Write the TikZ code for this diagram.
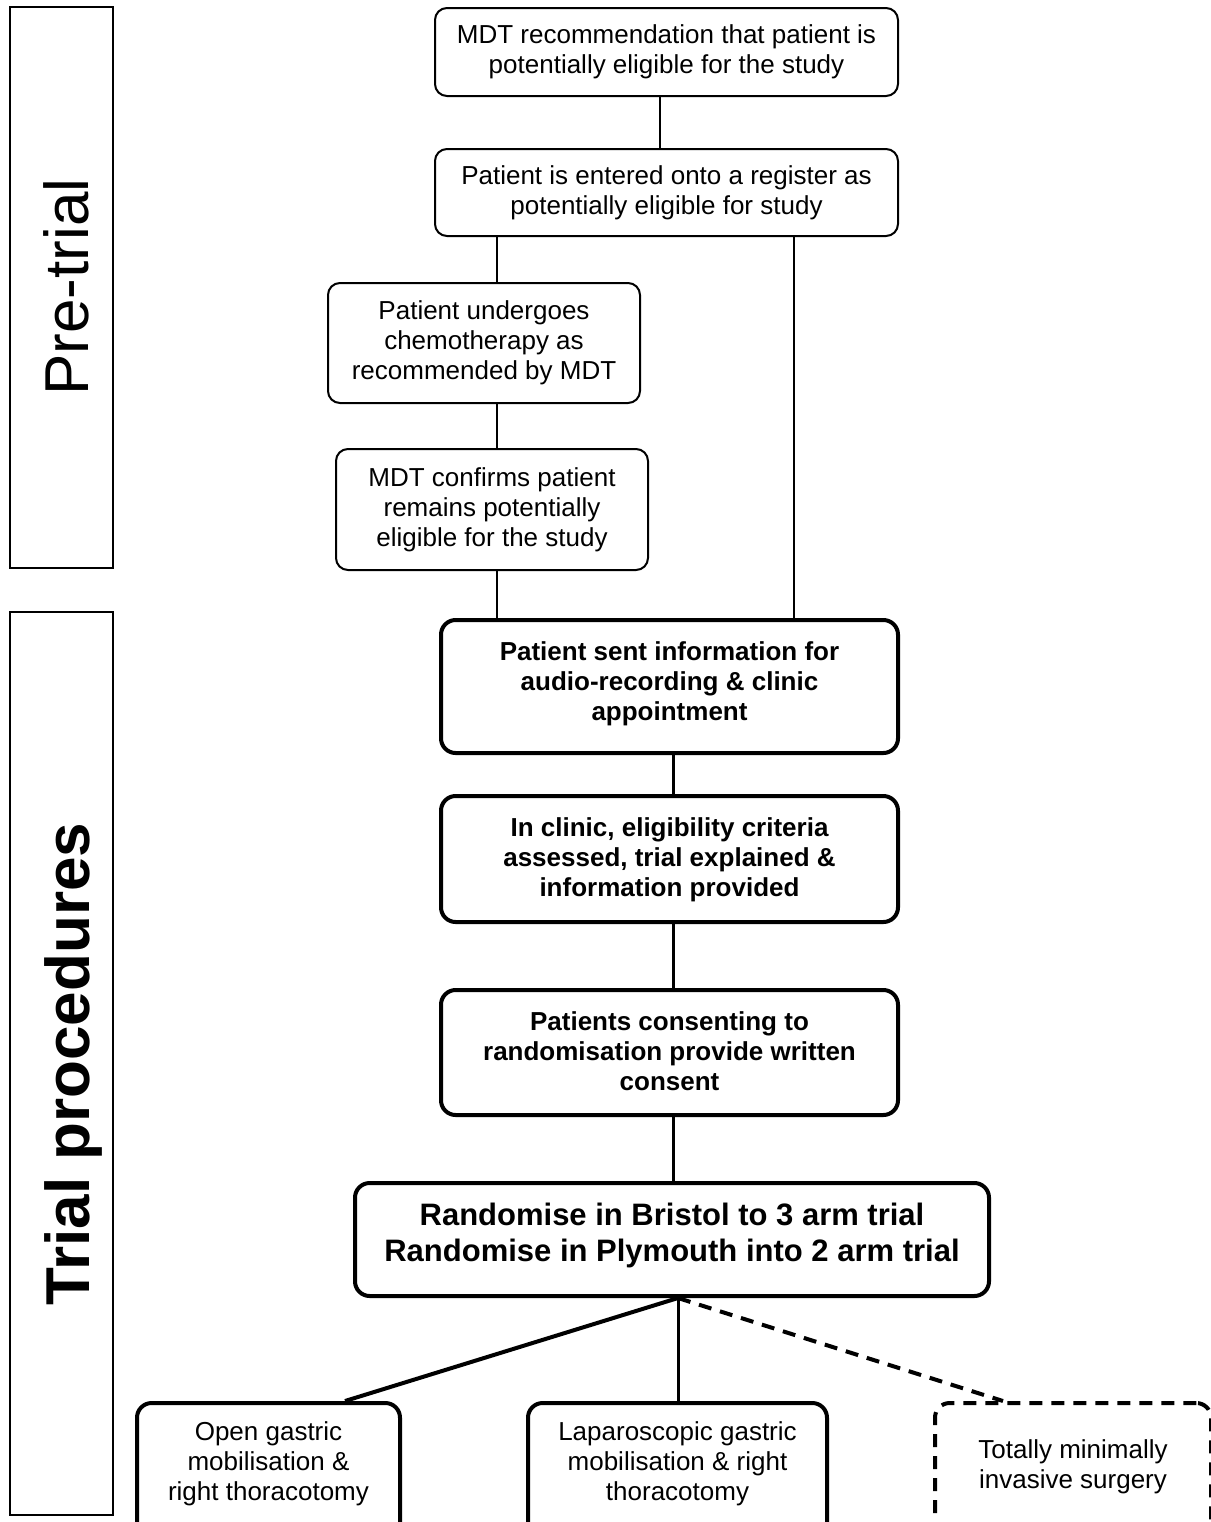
\documentclass[tikz,border=0pt]{standalone}
\usepackage{fontspec}
\setmainfont{Liberation Sans}
\usetikzlibrary{calc}
\begin{document}
\begin{tikzpicture}[x=0.75pt,y=-0.75pt,
  txt/.style={font=\fontsize{19.5pt}{22.5pt}\selectfont, align=center, inner sep=0pt},
  boldtxt/.style={txt, font=\fontsize{19.5pt}{22.5pt}\selectfont\bfseries},
  thinbox/.style={txt, draw, line width=1.5pt, rounded corners=9pt},
  thickbox/.style={draw, line width=3pt, rounded corners=11pt, inner sep=0pt},
  dashbox/.style={draw, line width=3pt, rounded corners=11pt, inner sep=0pt, dash pattern=on 9.75pt off 6.75pt},
  panel/.style={draw, line width=1.5pt},
  thinline/.style={line width=1.1pt},
  thickline/.style={line width=2.25pt},
  bigtxt/.style={font=\fontsize{46.5pt}{50pt}\selectfont, rotate=90, anchor=base, inner sep=0pt}
]
\useasboundingbox (0,0) rectangle (1211,1522);
\clip (0,0) rectangle (1211,1522);
\fill[white] (0,0) rectangle (1211,1522);

% side panels
\draw[panel] (10,7) rectangle (113,568);
\draw[panel] (10,612) rectangle (113,1515);
\node[bigtxt] (pre) at (88,287) {Pre-trial};
\node[bigtxt, font=\fontsize{46.5pt}{50pt}\selectfont\bfseries] (trial) at (89,1064) {Trial procedures};

% boxes
\node[thinbox, minimum width=347.25pt, minimum height=66pt] (b1) at (666.5,52) {MDT recommendation that patient is\\potentially eligible for the study};
\node[thinbox, minimum width=347.25pt, minimum height=65.25pt] (b2) at (666.5,192.5) {Patient is entered onto a register as\\potentially eligible for study};
\node[thinbox, minimum width=234pt, minimum height=90pt] (b3) at (484,343) {Patient undergoes\\chemotherapy as\\recommended by MDT};
\node[thinbox, minimum width=234pt, minimum height=90.75pt] (b4) at (492,509.5) {MDT confirms patient\\remains potentially\\eligible for the study};
\node[thickbox, minimum width=342.75pt, minimum height=99.75pt] (b5) at (669.5,686.5) {};
\node[boldtxt] (b5t) at (669.5,684) {Patient sent information for\\audio-recording \& clinic\\appointment};
\node[thickbox, minimum width=342.75pt, minimum height=94.5pt] (b6) at (669.5,859) {};
\node[boldtxt] (b6t) at (669.5,860) {In clinic, eligibility criteria\\assessed, trial explained \&\\information provided};
\node[thickbox, minimum width=342.75pt, minimum height=93.75pt] (b7) at (669.5,1052.5) {};
\node[boldtxt] (b7t) at (669.5,1051) {Patients consenting to\\randomisation provide written\\consent};
\node[thickbox, minimum width=475.5pt, minimum height=84.75pt] (b8) at (672,1239.5) {};
\node[txt, font=\fontsize{23.25pt}{27pt}\selectfont\bfseries] (b8t) at (672,1235) {Randomise in Bristol to 3 arm trial\\Randomise in Plymouth into 2 arm trial};

% bottom boxes (cut by the lower edge)
\node[thickbox, minimum width=197.25pt, minimum height=105pt] (b9) at (268.5,1473) {};
\node[txt] (b9t) at (268.5,1464) {Open gastric\\mobilisation \&\\right thoracotomy};
\node[thickbox, minimum width=224.25pt, minimum height=105pt] (b10) at (677.5,1473) {};
\node[txt] (b10t) at (677.5,1464) {Laparoscopic gastric\\mobilisation \& right\\thoracotomy};
\node[dashbox, minimum width=207pt, minimum height=105pt] (b11) at (1073,1473) {};
\node[txt] (b11t) at (1073,1467) {Totally minimally\\invasive surgery};

% guide x positions
\coordinate (gD) at (660,0);
\coordinate (gA) at (497,0);
\coordinate (gB) at (794,0);
\coordinate (gC) at (673,0);
\coordinate (gE) at (678,0);
\coordinate (g9) at (345,0);
\coordinate (g11) at (1003,0);

% connectors
\draw[thinline] (b1.south -| gD) -- (b2.north -| gD);
\draw[thinline] (b2.south -| gA) -- (b3.north -| gA);
\draw[thinline] (b3.south -| gA) -- (b4.north -| gA);
\draw[thinline] (b4.south -| gA) -- (b5.north -| gA);
\draw[thinline] (b2.south -| gB) -- (b5.north -| gB);
\draw[thickline] (b5.south -| gC) -- (b6.north -| gC);
\draw[thickline] (b6.south -| gC) -- (b7.north -| gC);
\draw[thickline] (b7.south -| gC) -- (b8.north -| gC);
\draw[line width=3pt] (b8.south -| gE) -- (b9.north -| g9);
\draw[thickline] (b8.south -| gE) -- (b10.north -| gE);
\draw[line width=3pt, dash pattern=on 9.75pt off 6.75pt] (b8.south -| gE) -- (b11.north -| g11);
\end{tikzpicture}
\end{document}
